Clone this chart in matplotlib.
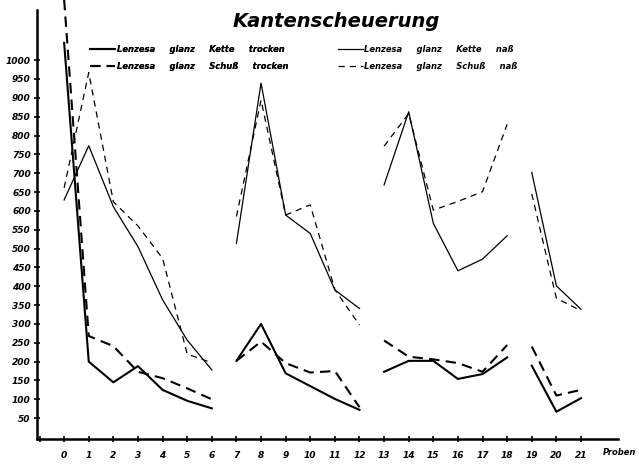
import numpy as np
import matplotlib.pyplot as plt
from matplotlib.lines import Line2D

# Proben 0-21, vier Versuchsreihen (Kantenscheuerung, Touren)
proben = np.arange(22)
gruppen = [(0, 6), (7, 12), (13, 18), (19, 21)]

kette_trocken = [1046, 200, 145, 188, 125, 96, 76,
                 202, 300, 169, 135, 101, 72,
                 173, 202, 202, 154, 167, 211,
                 189, 67, 103]
schuss_trocken = [1160, 268, 241, 173, 156, 129, 100,
                  202, 253, 196, 171, 175, 79,
                  256, 213, 206, 196, 173, 244,
                  240, 110, 125]
kette_nass = [629, 773, 611, 505, 364, 257, 178,
              514, 939, 589, 540, 390, 341,
              669, 863, 567, 441, 472, 534,
              702, 401, 339]
schuss_nass = [661, 967, 624, 560, 474, 220, 197,
               585, 894, 589, 616, 391, 297,
               772, 858, 602, 625, 651, 830,
               645, 368, 335]

y_ticks = list(range(50, 1001, 50))
x_ticks = list(range(0, 22))

fig = plt.figure(figsize=(6.39, 4.66), dpi=100)
fig.patch.set_facecolor('white')
ax = fig.add_axes([0.058, 0.058, 0.909, 0.9205])

styles = {
    'kt': dict(color='black', lw=1.5, ls='-'),
    'st': dict(color='black', lw=1.5, ls=(0, (5, 3))),
    'kn': dict(color='black', lw=0.9, ls='-'),
    'sn': dict(color='black', lw=0.9, ls=(0, (5, 4))),
}
reihen = [('kt', kette_trocken), ('st', schuss_trocken),
          ('kn', kette_nass), ('sn', schuss_nass)]

for key, werte in reihen:
    werte = np.array(werte, dtype=float)
    for a, b in gruppen:
        ax.plot(proben[a:b + 1], werte[a:b + 1], clip_on=False, **styles[key])

ax.set_xlim(-1.1, 22.5)
ax.set_ylim(-5.3, 1133)

for s in ['top', 'right']:
    ax.spines[s].set_visible(False)
for s in ['left', 'bottom']:
    ax.spines[s].set_linewidth(1.8)

tick_font = dict(fontsize=6.5, fontweight='bold', fontstyle='italic')
ax.set_yticks(y_ticks)
ax.set_yticklabels([str(v) for v in y_ticks], **tick_font)
ax.set_xticks([-1] + x_ticks)
ax.set_xticklabels([''] + [str(v) for v in x_ticks], **tick_font)
ax.tick_params(axis='both', direction='inout', length=5, width=1.2, pad=2)
ax.tick_params(axis='x', pad=6)

ax.text(21.9, -40, 'Proben', ha='left', va='center',
        fontsize=6, fontweight='bold', fontstyle='italic')

fig.text(0.527, 0.953, 'Kantenscheuerung', ha='center', va='center',
         fontsize=14, fontstyle='italic', fontweight='bold')

leg_font = dict(size=6, weight='bold', style='italic')
h_tr = [Line2D([], [], **styles['kt']), Line2D([], [], **styles['st'])]
h_na = [Line2D([], [], **styles['kn']), Line2D([], [], **styles['sn'])]
leg_kw = dict(loc='upper left', frameon=False, prop=leg_font,
              handlelength=3.0, handletextpad=0.2, labelspacing=1.0, borderpad=0)
leg1 = fig.legend(h_tr, ['Lenzesa     glanz     Kette     trocken',
                         'Lenzesa     glanz     Schuß     trocken'],
                  bbox_to_anchor=(0.135, 0.913), **leg_kw)
leg2 = fig.legend(h_na, ['Lenzesa     glanz     Kette     naß',
                         'Lenzesa     glanz     Schuß     naß'],
                  bbox_to_anchor=(0.522, 0.913), **leg_kw)
fig.add_artist(leg1)

fig.savefig('out.png', dpi=100)
